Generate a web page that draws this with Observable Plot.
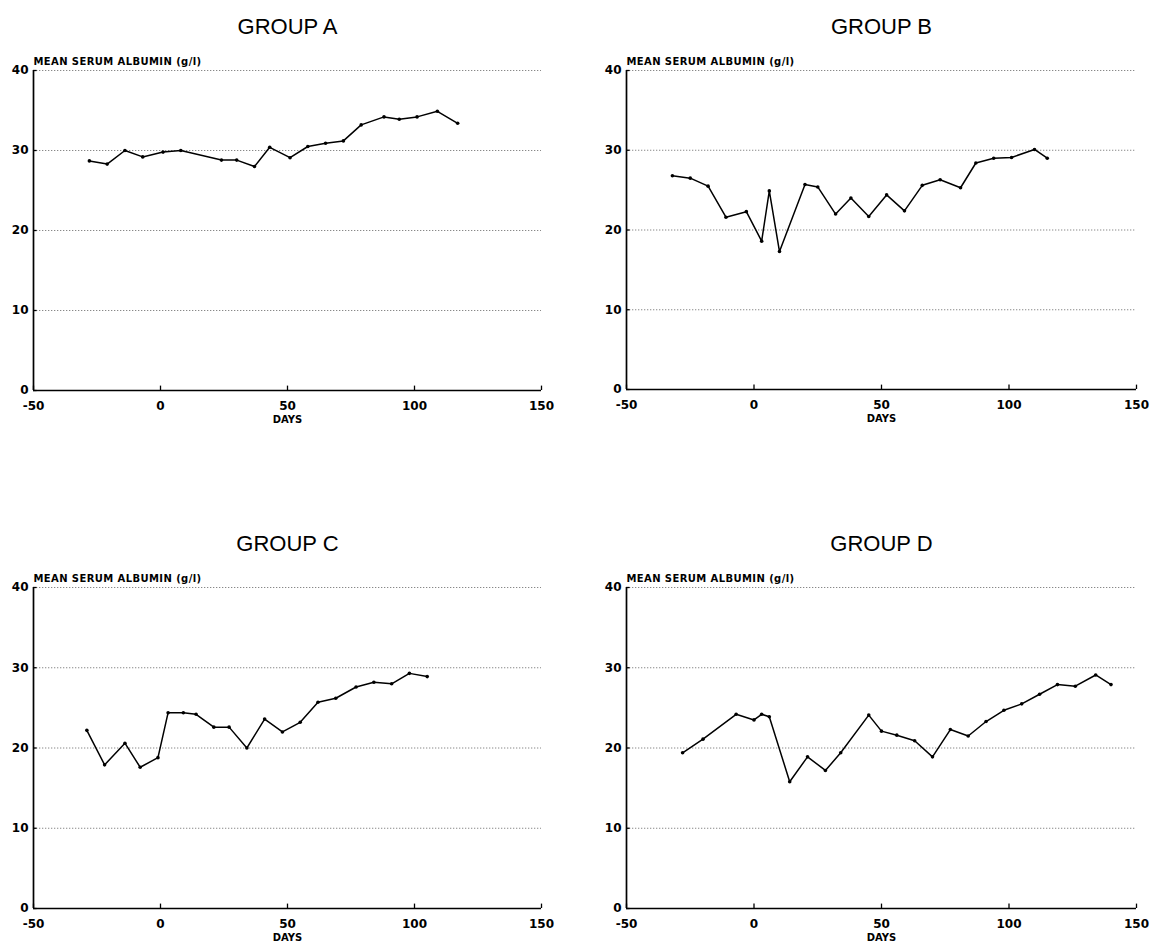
<!DOCTYPE html>
<html>
<head>
<meta charset="utf-8">
<script src="https://cdn.jsdelivr.net/npm/d3@7"></script>
<script src="https://cdn.jsdelivr.net/npm/@observablehq/plot@0.6"></script>
<style>
  html, body { margin: 0; padding: 0; background: #fff; }
  #wrap { position: relative; width: 1155px; height: 951px; background: #fff; overflow: hidden; }
  .panel { position: absolute; }
  .panel svg { display: block; background: #fff; }
</style>
</head>
<body>
<div id="wrap"></div>
<script>
// ---- data ----
const xTicks = [-50, 0, 50, 100, 150];
const yTicks = [0, 10, 20, 30, 40];
const gridValues = [10, 20, 30, 40];
const titles = ["GROUP A", "GROUP B", "GROUP C", "GROUP D"];
const yLabel = "MEAN SERUM ALBUMIN (g/l)";
const xLabel = "DAYS";

const daysA = [-28, -21, -14, -7, 1, 8, 24, 30, 37, 43, 51, 58, 65, 72, 79, 88, 94, 101, 109, 117];
const albA  = [28.7, 28.3, 30.0, 29.2, 29.8, 30.0, 28.8, 28.8, 28.0, 30.4, 29.1, 30.5, 30.9, 31.2, 33.2, 34.2, 33.9, 34.2, 34.9, 33.4];

const daysB = [-32, -25, -18, -11, -3, 3, 6, 10, 20, 25, 32, 38, 45, 52, 59, 66, 73, 81, 87, 94, 101, 110, 115];
const albB  = [26.8, 26.5, 25.5, 21.6, 22.3, 18.6, 24.9, 17.3, 25.7, 25.4, 22.0, 24.0, 21.7, 24.4, 22.4, 25.6, 26.3, 25.3, 28.4, 29.0, 29.1, 30.1, 29.0];

const daysC = [-29, -22, -14, -8, -1, 3, 9, 14, 21, 27, 34, 41, 48, 55, 62, 69, 77, 84, 91, 98, 105];
const albC  = [22.2, 17.9, 20.6, 17.6, 18.8, 24.4, 24.4, 24.2, 22.6, 22.6, 20.0, 23.6, 22.0, 23.2, 25.7, 26.2, 27.6, 28.2, 28.0, 29.3, 28.9];

const daysD = [-28, -20, -7, 0, 3, 6, 14, 21, 28, 34, 45, 50, 56, 63, 70, 77, 84, 91, 98, 105, 112, 119, 126, 134, 140];
const albD  = [19.4, 21.1, 24.2, 23.5, 24.2, 23.9, 15.8, 18.9, 17.2, 19.4, 24.1, 22.1, 21.6, 20.9, 18.9, 22.3, 21.5, 23.3, 24.7, 25.5, 26.7, 27.9, 27.7, 29.1, 27.9];

// ---- layout ----
const layouts = [
  {left: 0,   top: 0,   width: 578, height: 440, mt: 70, mb: 50, ml: 33, mr: 37},
  {left: 578, top: 0,   width: 577, height: 440, mt: 70, mb: 51, ml: 48, mr: 19},
  {left: 0,   top: 510, width: 578, height: 441, mt: 77, mb: 43, ml: 33, mr: 37},
  {left: 578, top: 510, width: 577, height: 441, mt: 77, mb: 43, ml: 48, mr: 19}
];
const seriesDays = [daysA, daysB, daysC, daysD];
const seriesAlb = [albA, albB, albC, albD];

const boldFont = "'DejaVu Sans', sans-serif";
const titleFont = "'Liberation Sans', Arial, Helvetica, sans-serif";
const fmt = d => String(d);

const wrap = document.getElementById("wrap");

layouts.forEach((L, i) => {
  const data = seriesDays[i].map((d, j) => ({day: d, alb: seriesAlb[i][j]}));
  const chart = Plot.plot({
    width: L.width,
    height: L.height,
    marginTop: L.mt,
    marginBottom: L.mb,
    marginLeft: L.ml,
    marginRight: L.mr,
    style: {background: "#fff", color: "#000", fontFamily: boldFont, fontWeight: "bold", overflow: "visible"},
    x: {domain: [-50, 150], ticks: xTicks},
    y: {domain: [0, 40], ticks: yTicks},
    marks: [
      Plot.ruleY(gridValues, {stroke: "#6a6a6a", strokeWidth: 0.8, strokeDasharray: "1.3,1.7"}),
      Plot.ruleY([0], {stroke: "#000", strokeWidth: 1.7}),
      Plot.ruleX([-50], {stroke: "#000", strokeWidth: 1.7}),
      Plot.ruleX(xTicks, {x: d => d, y1: 0, y2: 0.55, stroke: "#000", strokeWidth: 1.3}),
      Plot.ruleY(yTicks, {y: d => d, x1: -50, x2: -48.6, stroke: "#000", strokeWidth: 1.3}),
      Plot.axisX(xTicks, {tickSize: 0, tickPadding: 11, fontSize: 12, fontWeight: "bold", label: null, tickFormat: fmt, fontFamily: boldFont}),
      Plot.axisY(yTicks, {tickSize: 0, tickPadding: 5, fontSize: 12, fontWeight: "bold", label: null, tickFormat: fmt, fontFamily: boldFont}),
      Plot.line(data, {x: "day", y: "alb", stroke: "#000", strokeWidth: 1.5, strokeLinejoin: "miter"}),
      Plot.dot(data, {x: "day", y: "alb", r: 1.8, fill: "#000", stroke: "none"}),
      Plot.text([titles[i]], {frameAnchor: "top", dy: -52, fontSize: 22, fontWeight: "normal", fontFamily: titleFont, fill: "#000"}),
      Plot.text([yLabel], {frameAnchor: "top-left", textAnchor: "start", dy: -13, fontSize: 10, fontWeight: "bold", fontFamily: boldFont, fill: "#000"}),
      Plot.text([xLabel], {frameAnchor: "bottom", dy: 32, fontSize: 10, fontWeight: "bold", fontFamily: boldFont, fill: "#000"})
    ]
  });
  d3.select(chart).selectAll("text")
    .filter(function() { return this.textContent === yLabel; })
    .attr("letter-spacing", "0.4");
  const div = document.createElement("div");
  div.className = "panel";
  div.style.left = L.left + "px";
  div.style.top = L.top + "px";
  div.appendChild(chart);
  wrap.appendChild(div);
});
</script>
</body>
</html>
